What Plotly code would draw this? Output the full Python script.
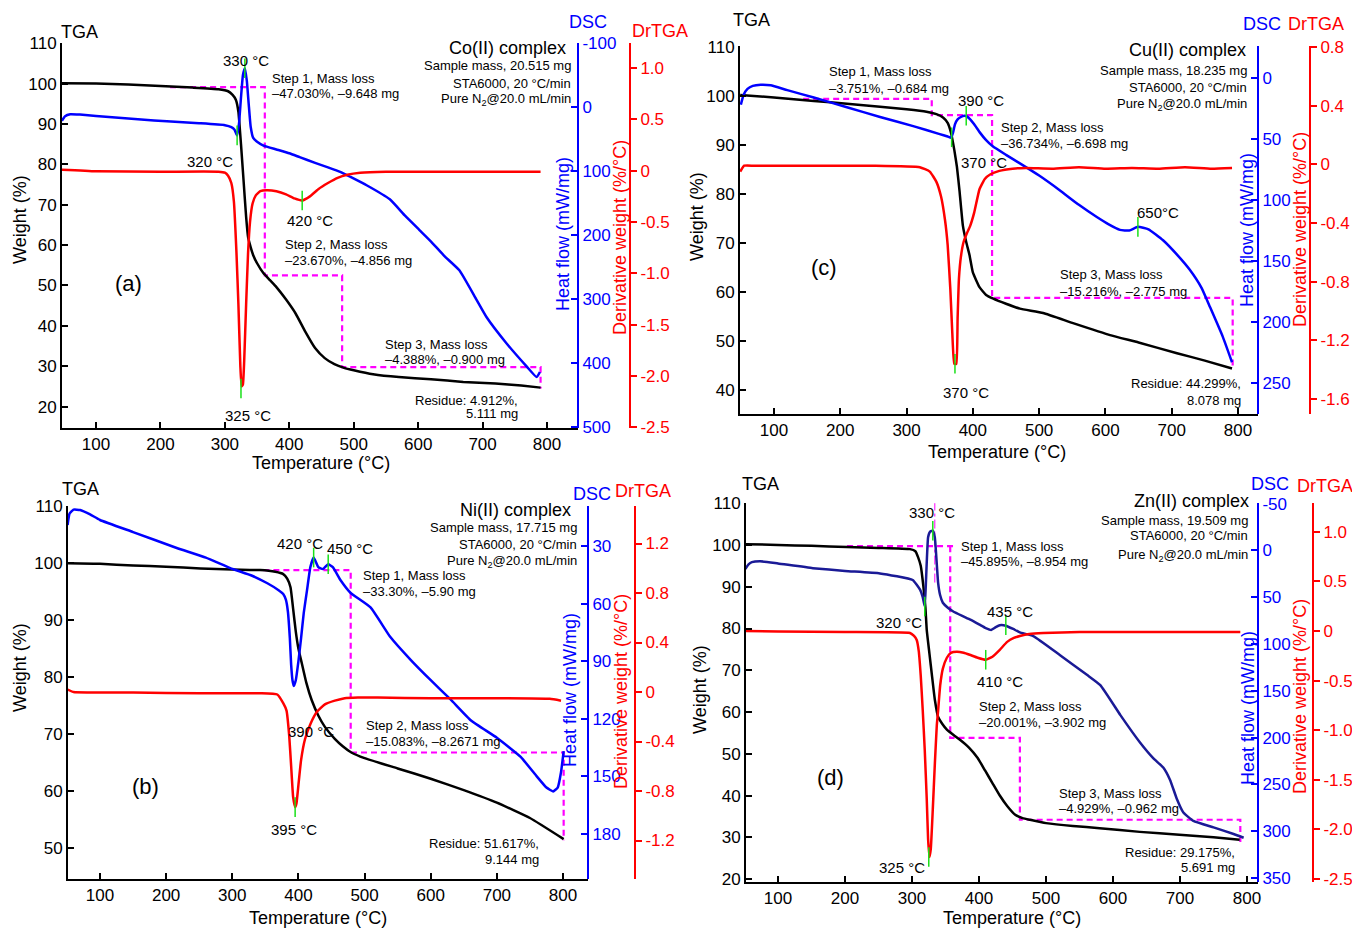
import plotly.graph_objects as go

W, H = 1352, 928
FONT = "Liberation Sans, Arial, Helvetica, sans-serif"
BLUE = "#0000ff"
RED = "#ff0000"
NAVY = "#1a1a96"
MAG = "#ff00ff"
GREEN = "#19e019"

# ---------------- data ----------------
temp_ticks = [100, 200, 300, 400, 500, 600, 700, 800]

# (a) Co(II) complex
a_tga_t = [47, 100, 150, 200, 250, 290, 305, 312, 317, 321, 325, 329, 333, 336, 340, 344, 350, 360, 370, 380,
           395, 410, 425, 440, 455, 470, 485, 500, 530, 570, 620, 670, 720, 760, 790]
a_tga_w = [100.1, 100.0, 99.8, 99.4, 99.0, 98.6, 98.1, 97.2, 96.0, 93.0, 85.0, 76.0, 67.0, 62.0, 59.5, 57.5, 55.5,
           53.0, 51.3, 49.6, 46.5, 43.0, 38.5, 34.5, 32.0, 30.5, 29.6, 29.0, 28.0, 27.3, 26.8, 26.1, 25.7, 25.2, 24.7]
a_dsc_t = [47, 52, 60, 75, 100, 130, 170, 210, 260, 300, 310, 315, 319, 322, 325, 328, 331, 334, 337, 340,
           344, 350, 360, 380, 400, 416, 440, 460, 479, 495, 520, 556, 580, 602, 620, 640, 664, 690, 706, 737,
           769, 784, 789]
a_dsc_v = [21, 14, 11, 11.5, 13.5, 16, 19, 22, 25, 28, 31, 35, 44, 25, -15, -50, -61, -42, -5, 30,
           48, 54, 60, 66, 72, 78, 87, 94, 101, 109, 122, 144, 170, 192, 210, 232, 255, 300, 328, 369,
           406, 422, 414]
a_dr_t = [47, 100, 200, 290, 300, 305, 310, 314, 318, 321, 324, 326, 328, 330, 333, 336, 339, 343, 348, 355,
          365, 380, 395, 408, 420, 432, 445, 460, 475, 490, 510, 550, 650, 790]
a_dr_v = [0.01, -0.005, -0.01, -0.01, -0.02, -0.05, -0.12, -0.3, -0.8, -1.3, -1.9, -2.1, -2.08, -1.85, -1.3,
          -0.8, -0.5, -0.32, -0.24, -0.2, -0.19, -0.2, -0.23, -0.27, -0.29, -0.25, -0.18, -0.12, -0.07, -0.04,
          -0.02, -0.01, -0.01, -0.01]
a_step_t = [215, 362, 362, 482, 482, 790, 790]
a_step_w = [99.1, 99.1, 52.5, 52.5, 29.8, 29.8, 24.5]
a_dsc_pk_t = [319, 331]
a_dsc_pk_v = [44, -61]
a_dr_pk_t = [325, 420]
a_dr_pk_v = [-2.12, -0.29]
a_w_ticks = [20, 30, 40, 50, 60, 70, 80, 90, 100, 110]
a_dsc_ticks = [-100, 0, 100, 200, 300, 400, 500]
a_dr_ticks = [1.0, 0.5, 0.0, -0.5, -1.0, -1.5, -2.0, -2.5]

# (b) Ni(II) complex
b_tga_t = [51, 100, 150, 200, 252, 300, 342, 365, 377, 383, 388, 392, 396, 400, 405, 412, 420, 430, 440, 455,
           467, 480, 500, 550, 600, 650, 700, 750, 801]
b_tga_w = [100, 99.9, 99.6, 99.4, 99.1, 98.9, 98.8, 98.5, 98.1, 97.3, 95.8, 92, 88, 85, 82.5, 79, 76, 73.3,
           71.3, 69.2, 67.9, 66.8, 65.8, 64, 62.2, 60.2, 58, 55.3, 51.6]
b_dsc_t = [51, 54, 60, 70, 85, 100, 150, 216, 260, 297, 330, 353, 370, 377, 381, 384, 387, 389, 391, 393,
           396, 400, 404, 408, 413, 418, 423, 430, 437, 445, 452, 464, 479, 509, 539, 570, 600, 630, 661, 700,
           736, 760, 775, 785, 792, 797, 801]
b_dsc_v = [19, 13, 11, 11.2, 13.5, 16.4, 22.7, 31, 36, 41.5, 45.5, 49.4, 53, 55, 58, 64, 78, 92, 100, 103,
           100, 90, 78, 65, 53, 41, 36, 41, 42, 39.5, 41, 48, 54.5, 62, 77.5, 89.5, 100, 110, 121, 130,
           140, 150, 156, 158, 156, 148, 137]
b_dr_t = [51, 60, 150, 250, 342, 368, 377, 382, 386, 389, 392, 395, 397, 400, 404, 410, 418, 428, 440, 455,
          470, 490, 520, 600, 700, 780, 797]
b_dr_v = [0.02, 0.0, -0.005, -0.01, -0.01, -0.02, -0.09, -0.15, -0.35, -0.6, -0.85, -0.93, -0.9, -0.75, -0.55,
          -0.38, -0.26, -0.16, -0.1, -0.07, -0.05, -0.045, -0.045, -0.05, -0.05, -0.055, -0.07]
b_step_t = [347, 479, 479, 801, 801]
b_step_w = [98.8, 98.8, 66.8, 66.8, 51.4]
b_dsc_pk_t = [423, 445]
b_dsc_pk_v = [36, 39.5]
b_dr_pk_t = [395]
b_dr_pk_v = [-0.93]
b_w_ticks = [50, 60, 70, 80, 90, 100, 110]
b_dsc_ticks = [30, 60, 90, 120, 150, 180]
b_dr_ticks = [1.2, 0.8, 0.4, 0.0, -0.4, -0.8, -1.2]

# (c) Cu(II) complex
c_tga_t = [49, 100, 160, 210, 260, 300, 330, 345, 355, 362, 367, 372, 376, 380, 385, 390, 395, 400, 410, 420,
           430, 450, 471, 506, 550, 607, 650, 708, 750, 791]
c_tga_w = [100.2, 99.7, 99.0, 98.4, 97.8, 97.3, 96.8, 96.3, 95.6, 94.5, 92.5, 89.0, 85.5, 80.5, 73.5, 70.2,
           67.5, 64.0, 61.0, 59.4, 58.7, 57.6, 56.6, 55.7, 53.7, 51.2, 49.7, 47.5, 46.0, 44.4]
c_dsc_t = [50, 54, 60, 68, 80, 95, 120, 160, 210, 260, 310, 350, 362, 367, 370, 373, 377, 382, 387, 391,
           396, 402, 411, 420, 430, 450, 471, 500, 531, 560, 587, 605, 622, 636, 649, 665, 687, 710, 727, 745,
           758, 777, 791]
c_dsc_v = [22, 14, 9, 6.5, 5.5, 6, 10, 16, 24, 32, 39.5, 46, 48, 49, 45, 38, 34, 32, 31, 31.5,
           34, 38, 45, 51, 56, 63, 70, 80, 92, 104, 114, 120, 124.5, 125, 122, 124, 133, 146, 157, 172,
           188, 212, 233]
c_dr_t = [49, 55, 70, 150, 250, 320, 335, 345, 352, 358, 362, 366, 369, 372, 375, 377, 379, 382, 386, 391,
          396, 402, 410, 418, 426, 440, 460, 480, 520, 560, 600, 640, 680, 720, 760, 791]
c_dr_v = [-0.05, -0.01, -0.01, -0.01, -0.01, -0.02, -0.05, -0.12, -0.22, -0.38, -0.55, -0.85, -1.15, -1.36,
          -1.36, -1.05, -0.78, -0.63, -0.53, -0.47, -0.42, -0.33, -0.17, -0.1, -0.07, -0.045, -0.03, -0.025,
          -0.03, -0.02, -0.03, -0.025, -0.03, -0.02, -0.03, -0.025]
c_step_t = [144, 338, 338, 429, 429, 792, 792]
c_step_w = [99.4, 99.4, 96.1, 96.1, 58.8, 58.8, 44.5]
c_dsc_pk_t = [368, 390, 649]
c_dsc_pk_v = [48.6, 31, 122]
c_dr_pk_t = [373]
c_dr_pk_v = [-1.36]
c_w_ticks = [40, 50, 60, 70, 80, 90, 100, 110]
c_dsc_ticks = [0, 50, 100, 150, 200, 250]
c_dr_ticks = [0.8, 0.4, 0.0, -0.4, -0.8, -1.2, -1.6]

# (d) Zn(II) complex
d_tga_t = [51, 100, 150, 203, 250, 297, 305, 309, 313, 317, 320, 322, 326, 330, 334, 339, 345, 352, 362, 372,
           385, 398, 409, 420, 431, 442, 454, 465, 476, 500, 540, 580, 640, 699, 750, 789]
d_tga_w = [100.2, 100, 99.8, 99.5, 99.3, 99, 98.5, 97.1, 95, 90, 85, 79.6, 74, 68.4, 63, 58.8, 57.2, 55.8,
           54.5, 53.3, 51.5, 49, 46, 43, 40, 37.5, 35.4, 34.6, 34.2, 33.4, 32.7, 32.2, 31.3, 30.6, 30, 29.4]
d_dsc_t = [51, 56, 61, 73, 100, 152, 200, 252, 301, 312, 316, 319, 321, 324, 327, 331, 334, 337, 339, 342,
           346, 353, 361, 375, 387, 400, 410, 418, 425, 431, 440, 451, 461, 481, 521, 561, 581, 611, 640, 660,
           675, 685, 695, 705, 720, 750, 780, 795]
d_dsc_v = [20, 15, 12.6, 11.6, 14, 19, 22, 24.6, 31.6, 42, 50, 60, 30, -14, -20, -21, -14, 15, 35, 48,
           56, 61, 65, 70, 74, 79, 83, 85, 82, 80, 80.5, 84, 87.6, 91.6, 112, 133, 144, 176, 205, 222,
           232, 245, 265, 280, 289, 296, 303, 307]
d_dr_t = [51, 100, 200, 297, 303, 307, 310, 313, 316, 319, 322, 324, 326, 328, 331, 334, 337, 339, 342, 346,
          352, 358, 367, 377, 386, 398, 410, 420, 431, 442, 452, 461, 475, 496, 550, 650, 790]
d_dr_v = [0.0, -0.005, -0.01, -0.02, -0.05, -0.09, -0.2, -0.45, -0.8, -1.2, -1.7, -2.1, -2.28, -2.2, -1.8,
          -1.35, -0.95, -0.8, -0.55, -0.38, -0.27, -0.22, -0.21, -0.22, -0.24, -0.27, -0.29, -0.26, -0.19,
          -0.11, -0.07, -0.05, -0.03, -0.02, -0.01, -0.01, -0.01]
d_step_t = [203, 367, None, 357, 357, 461, 461, 790, 790]
d_step_w = [99.7, 99.7, None, 99.7, 53.8, 53.8, 34.2, 34.2, 28.7]
d_mark_t = [334, 334]
d_mark_w = [91, 110]
d_dsc_pk_t = [319, 331, 440]
d_dsc_pk_v = [60, -21, 80]
d_dr_pk_t = [325, 410]
d_dr_pk_v = [-2.28, -0.29]
d_w_ticks = [20, 30, 40, 50, 60, 70, 80, 90, 100, 110]
d_dsc_ticks = [-50, 0, 50, 100, 150, 200, 250, 300, 350]
d_dr_ticks = [1.0, 0.5, 0.0, -0.5, -1.0, -1.5, -2.0, -2.5]


# ---------------- helpers ----------------
def dr_label(v):
    return "0" if v == 0 else f"{v:.1f}"


def ref(prefix, n):
    return prefix if n == 1 else f"{prefix}{n}"


panels = [
    dict(tga=(a_tga_t, a_tga_w), dsc=(a_dsc_t, a_dsc_v), dr=(a_dr_t, a_dr_v), step=(a_step_t, a_step_w),
         dpk=(a_dsc_pk_t, a_dsc_pk_v), rpk=(a_dr_pk_t, a_dr_pk_v), wt=a_w_ticks, dt=a_dsc_ticks, rt=a_dr_ticks,
         geom=(62, 578, 43, 428, 630), xr=[47.2, 848.1], wr=[14.7, 110.05], drng=[501.6, -100.5],
         rr=[-2.505, 1.243], dcol=BLUE),
    dict(tga=(b_tga_t, b_tga_w), dsc=(b_dsc_t, b_dsc_v), dr=(b_dr_t, b_dr_v), step=(b_step_t, b_step_w),
         dpk=(b_dsc_pk_t, b_dsc_pk_v), rpk=(b_dr_pk_t, b_dr_pk_v), wt=b_w_ticks, dt=b_dsc_ticks, rt=b_dr_ticks,
         geom=(68, 588, 506, 879, 635), xr=[51.6, 837.8], wr=[44.6, 110.05], drng=[203.7, 9.1],
         rr=[-1.511, 1.503], dcol=BLUE),
    dict(tga=(c_tga_t, c_tga_w), dsc=(c_dsc_t, c_dsc_v), dr=(c_dr_t, c_dr_v), step=(c_step_t, c_step_w),
         dpk=(c_dsc_pk_t, c_dsc_pk_v), rpk=(c_dr_pk_t, c_dr_pk_v), wt=c_w_ticks, dt=c_dsc_ticks, rt=c_dr_ticks,
         geom=(740, 1258, 46, 414, 1310), xr=[48.7, 830.2], wr=[35.1, 110.2], drng=[275.4, -26.2],
         rr=[-1.702, 0.806], dcol=BLUE),
    dict(tga=(d_tga_t, d_tga_w), dsc=(d_dsc_t, d_dsc_v), dr=(d_dr_t, d_dr_v), step=(d_step_t, d_step_w),
         dpk=(d_dsc_pk_t, d_dsc_pk_v), rpk=(d_dr_pk_t, d_dr_pk_v), wt=d_w_ticks, dt=d_dsc_ticks, rt=d_dr_ticks,
         geom=(746, 1258, 503, 882, 1313), xr=[52.2, 816.4], wr=[19.3, 110.05], drng=[354.3, -50.6],
         rr=[-2.532, 1.291], dcol=NAVY),
]

fig = go.Figure()
layout = {}

for k, P in enumerate(panels, start=1):
    xr = ref("x", k)
    yw, yd, yr = ref("y", 3 * k - 2), ref("y", 3 * k - 1), ref("y", 3 * k)
    line_kw = dict(mode="lines", hoverinfo="skip", showlegend=False)

    fig.add_trace(go.Scatter(x=P["step"][0], y=P["step"][1], xaxis=xr, yaxis=yw,
                             line=dict(color=MAG, width=2.2, dash="6px,4px"), **line_kw))
    if k == 4:
        fig.add_trace(go.Scatter(x=d_mark_t, y=d_mark_w, xaxis=xr, yaxis=yw,
                                 line=dict(color=MAG, width=1, dash="dashdot"), **line_kw))
    fig.add_trace(go.Scatter(x=P["tga"][0], y=P["tga"][1], xaxis=xr, yaxis=yw,
                             line=dict(color="black", width=2.5, shape="spline", smoothing=0.4), **line_kw))
    fig.add_trace(go.Scatter(x=P["dsc"][0], y=P["dsc"][1], xaxis=xr, yaxis=yd,
                             line=dict(color=P["dcol"], width=2.5, shape="spline", smoothing=0.4), **line_kw))
    fig.add_trace(go.Scatter(x=P["dpk"][0], y=P["dpk"][1], xaxis=xr, yaxis=yd, mode="markers",
                             marker=dict(symbol="line-ns", size=14, line=dict(color=GREEN, width=1.5)),
                             hoverinfo="skip", showlegend=False))
    fig.add_trace(go.Scatter(x=P["dr"][0], y=P["dr"][1], xaxis=xr, yaxis=yr,
                             line=dict(color=RED, width=2.5, shape="spline", smoothing=0.4), **line_kw))
    fig.add_trace(go.Scatter(x=P["rpk"][0], y=P["rpk"][1], xaxis=xr, yaxis=yr, mode="markers",
                             marker=dict(symbol="line-ns", size=14, line=dict(color=GREEN, width=1.5)),
                             hoverinfo="skip", showlegend=False))

    left, right, top, bottom, redx = P["geom"]
    common = dict(showgrid=False, zeroline=False, showline=True, linewidth=2, ticklen=6, tickwidth=1.5,
                  automargin=False)
    layout[ref("xaxis", k)] = dict(domain=[left / W, right / W], anchor=yw, range=P["xr"],
                                   tickvals=temp_ticks, ticktext=[str(t) for t in temp_ticks],
                                   ticks="inside", linecolor="black", tickcolor="black",
                                   tickfont=dict(size=17, color="black", family=FONT), **common)
    layout[ref("yaxis", 3 * k - 2)] = dict(domain=[1 - bottom / H, 1 - top / H], anchor=xr, range=P["wr"],
                                           tickvals=P["wt"], ticktext=[str(t) for t in P["wt"]],
                                           ticks="inside", linecolor="black", tickcolor="black",
                                           tickfont=dict(size=17, color="black", family=FONT), **common)
    layout[ref("yaxis", 3 * k - 1)] = dict(overlaying=yw, anchor="free", position=right / W, side="right",
                                           range=P["drng"], tickvals=P["dt"], ticktext=[str(t) for t in P["dt"]],
                                           ticks="inside", linecolor=BLUE, tickcolor=BLUE,
                                           tickfont=dict(size=17, color=BLUE, family=FONT), **common)
    layout[ref("yaxis", 3 * k)] = dict(overlaying=yw, anchor="free", position=redx / W, side="right",
                                       range=P["rr"], tickvals=P["rt"], ticktext=[dr_label(v) for v in P["rt"]],
                                       ticks="outside", linecolor=RED, tickcolor=RED,
                                       tickfont=dict(size=17, color=RED, family=FONT), **common)

# ---------------- text ----------------
K = "black"
N2 = "Pure N<sub>2</sub>@20.0 mL/min"
texts = [
    # (a)
    ("TGA", 79, 32, 18, K, "center", 0), ("DSC", 588, 22, 18, BLUE, "center", 0),
    ("DrTGA", 660, 31, 18, RED, "center", 0),
    ("Co(II) complex", 568, 48, 18, K, "right", 0),
    ("Sample mass, 20.515 mg", 573, 66, 13, K, "right", 0),
    ("STA6000, 20 °C/min", 573, 83, 13, K, "right", 0),
    (N2, 573, 100, 13, K, "right", 0),
    ("330 °C", 246, 60, 15, K, "center", 0),
    ("Step 1, Mass loss", 270, 78, 13, K, "left", 0),
    ("–47.030%, –9.648 mg", 270, 94, 13, K, "left", 0),
    ("320 °C", 210, 162, 15, K, "center", 0),
    ("420 °C", 310, 221, 15, K, "center", 0),
    ("Step 2, Mass loss", 283, 244, 13, K, "left", 0),
    ("–23.670%, –4.856 mg", 283, 260, 13, K, "left", 0),
    ("(a)", 128, 283, 22, K, "center", 0),
    ("Step 3, Mass loss", 383, 344, 13, K, "left", 0),
    ("–4.388%, –0.900 mg", 383, 359, 13, K, "left", 0),
    ("Residue: 4.912%,", 520, 400, 13, K, "right", 0),
    ("5.111 mg", 520, 414, 13, K, "right", 0),
    ("325 °C", 248, 415, 15, K, "center", 0),
    ("Temperature (°C)", 321, 463, 18, K, "center", 0),
    ("Weight (%)", 20, 220, 18, K, "center", -90),
    ("Heat flow (mW/mg)", 563, 234, 18, BLUE, "center", -90),
    ("Derivative weight (%/°C)", 620, 238, 18, RED, "center", -90),
    # (b)
    ("TGA", 80, 489, 18, K, "center", 0), ("DSC", 592, 494, 18, BLUE, "center", 0),
    ("DrTGA", 643, 491, 18, RED, "center", 0),
    ("Ni(II) complex", 573, 510, 18, K, "right", 0),
    ("Sample mass, 17.715 mg", 579, 527, 13, K, "right", 0),
    ("STA6000, 20 °C/min", 579, 544, 13, K, "right", 0),
    (N2, 579, 561, 13, K, "right", 0),
    ("420 °C", 300, 543, 15, K, "center", 0),
    ("450 °C", 350, 548, 15, K, "center", 0),
    ("Step 1, Mass loss", 361, 575, 13, K, "left", 0),
    ("–33.30%, –5.90 mg", 361, 591, 13, K, "left", 0),
    ("390 °C", 311, 731, 15, K, "center", 0),
    ("Step 2, Mass loss", 364, 725, 13, K, "left", 0),
    ("–15.083%, –8.2671 mg", 364, 741, 13, K, "left", 0),
    ("(b)", 145, 786, 22, K, "center", 0),
    ("395 °C", 294, 829, 15, K, "center", 0),
    ("Residue: 51.617%,", 541, 843, 13, K, "right", 0),
    ("9.144 mg", 541, 859, 13, K, "right", 0),
    ("Temperature (°C)", 318, 918, 18, K, "center", 0),
    ("Weight (%)", 20, 668, 18, K, "center", -90),
    ("Heat flow (mW/mg)", 570, 690, 18, BLUE, "center", -90),
    ("Derivative weight (%/°C)", 621, 692, 18, RED, "center", -90),
    # (c)
    ("TGA", 752, 20, 18, K, "center", 0), ("DSC", 1262, 24, 18, BLUE, "center", 0),
    ("DrTGA", 1316, 24, 18, RED, "center", 0),
    ("Cu(II) complex", 1248, 50, 18, K, "right", 0),
    ("Sample mass, 18.235 mg", 1249, 71, 13, K, "right", 0),
    ("STA6000, 20 °C/min", 1249, 87, 13, K, "right", 0),
    (N2, 1249, 105, 13, K, "right", 0),
    ("Step 1, Mass loss", 827, 72, 13, K, "left", 0),
    ("–3.751%, –0.684 mg", 827, 88, 13, K, "left", 0),
    ("390 °C", 981, 101, 15, K, "center", 0),
    ("Step 2, Mass loss", 999, 127, 13, K, "left", 0),
    ("–36.734%, –6.698 mg", 999, 144, 13, K, "left", 0),
    ("370 °C", 984, 163, 15, K, "center", 0),
    ("650°C", 1158, 212, 15, K, "center", 0),
    ("(c)", 824, 268, 22, K, "center", 0),
    ("Step 3, Mass loss", 1058, 274, 13, K, "left", 0),
    ("–15.216%, –2.775 mg", 1058, 291, 13, K, "left", 0),
    ("370 °C", 966, 393, 15, K, "center", 0),
    ("Residue: 44.299%,", 1243, 383, 13, K, "right", 0),
    ("8.078 mg", 1243, 400, 13, K, "right", 0),
    ("Temperature (°C)", 997, 452, 18, K, "center", 0),
    ("Weight (%)", 697, 217, 18, K, "center", -90),
    ("Heat flow (mW/mg)", 1247, 230, 18, BLUE, "center", -90),
    ("Derivative weight (%/°C)", 1300, 230, 18, RED, "center", -90),
    # (d)
    ("TGA", 760, 484, 18, K, "center", 0), ("DSC", 1270, 484, 18, BLUE, "center", 0),
    ("DrTGA", 1325, 486, 18, RED, "center", 0),
    ("Zn(II) complex", 1251, 501, 18, K, "right", 0),
    ("Sample mass, 19.509 mg", 1250, 520, 13, K, "right", 0),
    ("STA6000, 20 °C/min", 1250, 535, 13, K, "right", 0),
    (N2, 1250, 555, 13, K, "right", 0),
    ("330 °C", 932, 512, 15, K, "center", 0),
    ("Step 1, Mass loss", 959, 546, 13, K, "left", 0),
    ("–45.895%, –8.954 mg", 959, 561, 13, K, "left", 0),
    ("320 °C", 899, 622, 15, K, "center", 0),
    ("435 °C", 1010, 611, 15, K, "center", 0),
    ("410 °C", 1000, 681, 15, K, "center", 0),
    ("Step 2, Mass loss", 977, 706, 13, K, "left", 0),
    ("–20.001%, –3.902 mg", 977, 722, 13, K, "left", 0),
    ("(d)", 830, 777, 22, K, "center", 0),
    ("Step 3, Mass loss", 1057, 793, 13, K, "left", 0),
    ("–4.929%, –0.962 mg", 1057, 808, 13, K, "left", 0),
    ("325 °C", 902, 867, 15, K, "center", 0),
    ("Residue: 29.175%,", 1237, 852, 13, K, "right", 0),
    ("5.691 mg", 1237, 867, 13, K, "right", 0),
    ("Temperature (°C)", 1012, 918, 18, K, "center", 0),
    ("Weight (%)", 700, 690, 18, K, "center", -90),
    ("Heat flow (mW/mg)", 1248, 708, 18, BLUE, "center", -90),
    ("Derivative weight (%/°C)", 1300, 697, 18, RED, "center", -90),
]

annotations = [dict(x=x / W, y=1 - y / H, xref="paper", yref="paper", text=s, showarrow=False,
                    xanchor=xa, yanchor="middle", textangle=ang,
                    font=dict(size=sz, color=col, family=FONT))
               for (s, x, y, sz, col, xa, ang) in texts]

fig.update_layout(width=W, height=H, autosize=False, margin=dict(l=0, r=0, t=0, b=0, pad=0),
                  paper_bgcolor="white", plot_bgcolor="rgba(0,0,0,0)", showlegend=False,
                  font=dict(family=FONT, color="black"), annotations=annotations, **layout)

fig.write_html("out.html",
               config={"displayModeBar": False},
               post_script="document.body.style.margin='0px';document.body.style.overflow='hidden';")
